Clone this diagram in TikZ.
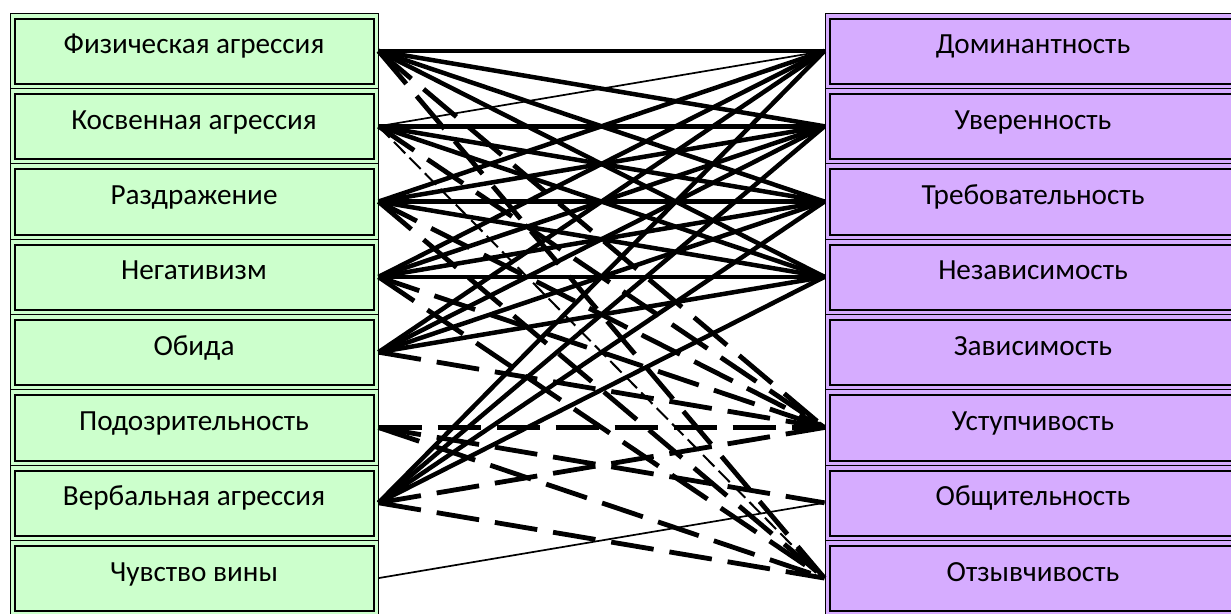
\documentclass[tikz,border=0pt]{standalone}
\usepackage{fontspec}
\setmainfont{Carlito}
\usetikzlibrary{calc}

\definecolor{lgreen}{RGB}{204,255,204}
\definecolor{lviolet}{RGB}{214,172,255}

\begin{document}
\begin{tikzpicture}[x=0.5pt,y=-0.5pt,
    box/.style={draw,line width=0.5pt,minimum height=37.6pt,
      text height=11pt,text depth=8pt,font=\fontsize{14.6}{17}\selectfont},
    lbox/.style={box,fill=lgreen,minimum width=184pt},
    rbox/.style={box,fill=lviolet,minimum width=208pt},
    inner/.style={line width=1pt},
    strong/.style={line width=2.25pt},
    weak/.style={line width=0.85pt},
    neg/.style={line width=2.4pt,dash pattern=on 21.5pt off 8pt},
    weakneg/.style={line width=1pt,dash pattern=on 8pt off 3pt}]
  \useasboundingbox (0,0) rectangle (1231,614);
  % aggression scales
  \foreach \t [count=\i] in {Физическая агрессия,Косвенная агрессия,Раздражение,
      Негативизм,Обида,Подозрительность,Вербальная агрессия,Чувство вины}{
    \node[lbox] (l\i) at (194,{51+75.3*(\i-1)}) {\t};
    \draw[inner] ([shift={(5,6)}]l\i.north west) rectangle ([shift={(-5,-5)}]l\i.south east);
  }
  % interpersonal scales
  \foreach \t [count=\i] in {Доминантность,Уверенность,Требовательность,
      Независимость,Зависимость,Уступчивость,Общительность,Отзывчивость}{
    \node[rbox] (r\i) at (1033,{51+75.3*(\i-1)}) {\t};
    \draw[inner] ([shift={(5,6)}]r\i.north west) rectangle ([shift={(-5,-5)}]r\i.south east);
  }
  % positive links
  \foreach \a/\b in {1/1,1/2,1/3,1/4,2/2,2/3,2/4,3/1,3/2,3/3,3/4,4/1,4/2,4/3,4/4,
      5/1,5/2,5/3,5/4,7/1,7/2,7/3,7/4}
    \draw[strong] (l\a.east) -- (r\b.west);
  \draw[weak] (l2.east) -- (r1.west);
  \draw[weak] (l8.east) -- (r7.west);
  % negative links
  \foreach \a/\b in {1/6,1/8,2/6,3/6,3/8,4/6,4/8,5/6,6/6,6/7,6/8,7/6,7/8}
    \draw[neg] (l\a.east) -- (r\b.west);
  \draw[weakneg] (l2.east) -- (r8.west);
\end{tikzpicture}
\end{document}
